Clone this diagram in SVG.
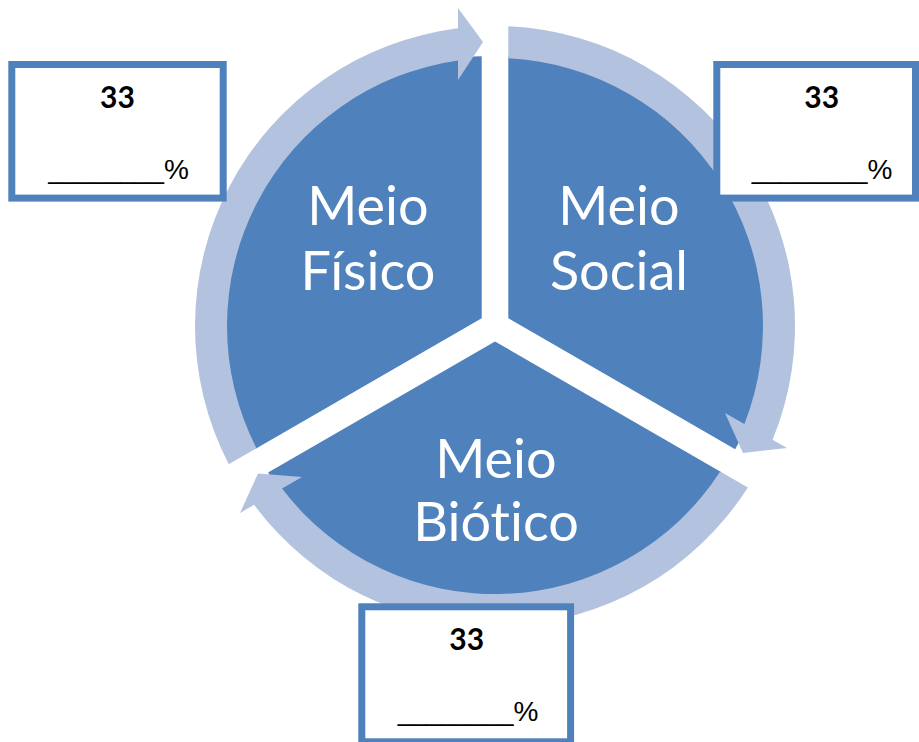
<svg xmlns="http://www.w3.org/2000/svg" width="919" height="742" viewBox="0 0 919 742">
<style>
.slice{fill:#4F81BD}
.ring{fill:#B3C2DE}
.lbl{font-family:Lato,"Liberation Sans",Arial,sans-serif;font-size:54px;fill:#FFFFFF;text-anchor:middle;font-variant-ligatures:none;font-feature-settings:"liga" 0}
.box{fill:#FFFFFF;stroke:#4F81BD;stroke-width:7}
.num{font-family:Lato,"Liberation Sans",Arial,sans-serif;font-size:30px;font-weight:bold;fill:#000000;text-anchor:middle}
.pct{font-family:"Liberation Sans",Arial,sans-serif;font-size:26px;fill:#000000}
</style>
<rect width="919" height="742" fill="#FFFFFF"/>
<g id="meio-fisico">
<path class="slice" d="M481.7,318.3 L254.8,449.3 A262,262 0 0 1 481.7,56.3 Z"/>
<text class="lbl" x="368" y="225">Meio</text>
<text class="lbl" x="368" y="290">Físico</text>
</g>
<g id="meio-social">
<path class="slice" d="M508.3,318.3 L508.3,56.3 A262,262 0 0 1 735.2,449.3 Z"/>
<text class="lbl" x="619" y="225">Meio</text>
<text class="lbl" x="619" y="290">Social</text>
</g>
<g id="meio-biotico">
<path class="slice" d="M495,341.4 L721.9,472.4 A262,262 0 0 1 268.1,472.4 Z"/>
<text class="lbl" x="496" y="478">Meio</text>
<text class="lbl" x="496" y="541">Biótico</text>
</g>
<g id="connectors">
<path class="ring" d="M228.8,464.3 A300,300 0 0 1 458,28.3 L458,8 L483,42 L458,80 L458,60.6 A268,268 0 0 0 256.5,448.3 Z"/>
<path class="ring" d="M508.3,26.3 A300,300 0 0 1 772.6,439.8 L787,448 L743,453 L725,413 L744.4,424 A268,268 0 0 0 508.3,58.3 Z"/>
<path class="ring" d="M747.9,487.4 A300,300 0 0 1 254.1,504.8 L240,513 L258,473.5 L302,477 L282,488.6 A268,268 0 0 0 720.2,471.4 Z"/>
</g>
<g id="box-fisico">
<rect class="box" x="11.8" y="64.5" width="211.4" height="133.6"/>
<text class="num" x="117.5" y="108.3">33</text>
<text class="pct" x="48.3" y="178.5">________<tspan font-size="28">%</tspan></text>
</g>
<g id="box-social">
<rect class="box" x="716.8" y="64.5" width="198.7" height="133.6"/>
<text class="num" x="821.7" y="108.3">33</text>
<text class="pct" x="751.7" y="178.5">________<tspan font-size="28">%</tspan></text>
</g>
<g id="box-biotico">
<rect class="box" x="361.8" y="606.8" width="208.8" height="135"/>
<text class="num" x="466.7" y="650">33</text>
<text class="pct" x="397.7" y="720.5">________<tspan font-size="28">%</tspan></text>
</g>
</svg>
